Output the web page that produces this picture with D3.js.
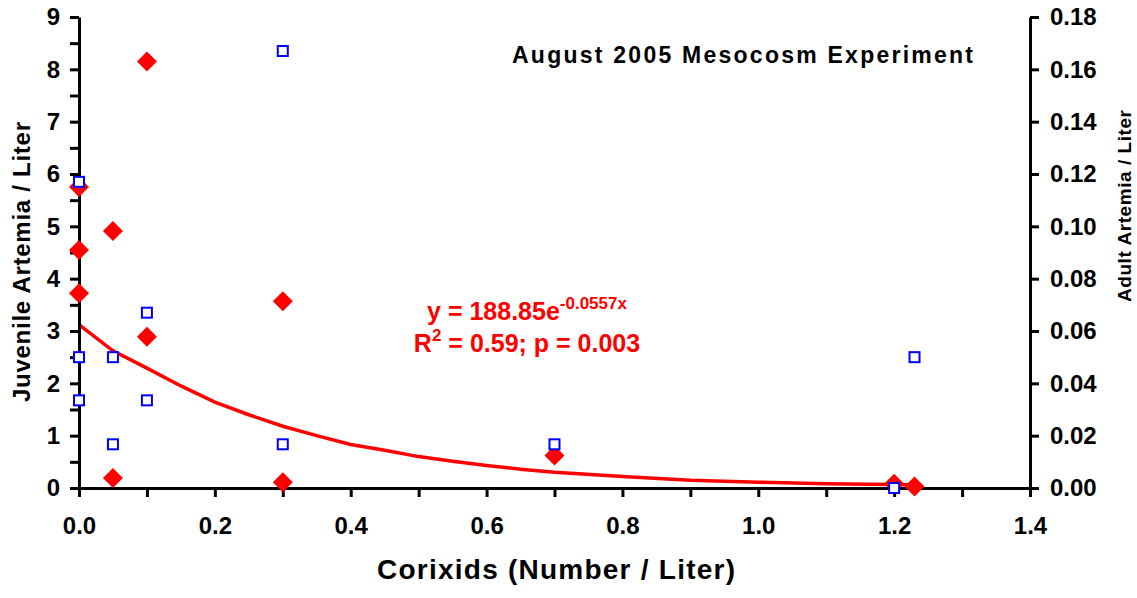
<!DOCTYPE html>
<html>
<head>
<meta charset="utf-8">
<script src="https://cdn.jsdelivr.net/npm/d3@7"></script>
<style>
  body { margin: 0; background: #fff; }
  svg { font-family: "Liberation Sans", Arial, sans-serif; font-weight: bold; }
  .axis path, .axis line { stroke: #000; stroke-width: 3; }
  .axis text { font-size: 24px; font-weight: bold; fill: #000; }
</style>
</head>
<body>
<svg id="chart" width="1137" height="598"></svg>
<script>
// corixid density (x) for each mesocosm
const juvX = [0, 0, 0, 0.05, 0.05, 0.1, 0.1, 0.3, 0.3, 0.7, 1.2, 1.23];
// juvenile artemia / liter (left axis)
const juvY = [5.75, 4.55, 3.72, 4.91, 0.19, 8.15, 2.89, 3.57, 0.11, 0.62, 0.08, 0.03];
const adultX = [0, 0, 0, 0.05, 0.05, 0.1, 0.1, 0.3, 0.3, 0.7, 1.2, 1.23];
// adult artemia / liter (right axis)
const adultY = [0.117, 0.05, 0.0335, 0.05, 0.0167, 0.067, 0.0335, 0.167, 0.0167, 0.0167, 0, 0.05];

// exponential trend line
const trendX = [0, 0.05, 0.1, 0.15, 0.2, 0.25, 0.3, 0.35, 0.4, 0.45, 0.5, 0.55, 0.6, 0.65, 0.7, 0.8, 0.9, 1.0, 1.1, 1.23];
const trendY = [3.12, 2.62, 2.29, 1.95, 1.64, 1.40, 1.18, 1.00, 0.83, 0.72, 0.60, 0.51, 0.43, 0.36, 0.30, 0.22, 0.15, 0.11, 0.08, 0.06];

const xTicks = d3.range(0, 15).map(i => i / 10);
const yLeftTicks = d3.range(0, 19).map(i => i / 2);
const yRightTicks = d3.range(0, 10).map(i => i / 50);

const svg = d3.select("svg#chart");
const plotLeft = 79, plotRight = 1030, plotTop = 17, plotBottom = 488;

const x = d3.scaleLinear().domain([0, 1.4]).range([plotLeft, plotRight]);
const yL = d3.scaleLinear().domain([0, 9]).range([plotBottom, plotTop]);
const yR = d3.scaleLinear().domain([0, 0.18]).range([plotBottom, plotTop]);

// trend line
const line = d3.line()
    .x((d, i) => x(trendX[i]))
    .y(d => yL(d));
svg.append("path")
    .datum(trendY)
    .attr("d", line)
    .attr("fill", "none")
    .attr("stroke", "#ff0000")
    .attr("stroke-width", 3.5);

// axes
svg.append("g")
    .attr("class", "axis")
    .attr("transform", `translate(0,${plotBottom})`)
    .call(d3.axisBottom(x).tickValues(xTicks).tickSize(9).tickSizeOuter(0).tickPadding(20)
        .tickFormat(d => Math.round(d * 10) % 2 === 0 ? d3.format(".1f")(d) : ""));

svg.append("g")
    .attr("class", "axis")
    .attr("transform", `translate(${plotLeft},0)`)
    .call(d3.axisLeft(yL).tickValues(yLeftTicks).tickSize(9).tickSizeOuter(0).tickPadding(10)
        .tickFormat(d => Number.isInteger(d) ? d : ""));

svg.append("g")
    .attr("class", "axis")
    .attr("transform", `translate(${plotRight},0)`)
    .call(d3.axisRight(yR).tickValues(yRightTicks).tickSize(9).tickSizeOuter(0).tickPadding(11)
        .tickFormat(d3.format(".2f")));

// juvenile: red diamonds
svg.selectAll("path.juv")
    .data(juvY)
    .join("path")
    .attr("class", "juv")
    .attr("d", d3.symbol(d3.symbolSquare, 200))
    .attr("transform", (d, i) => `translate(${x(juvX[i])},${yL(d)}) rotate(45)`)
    .attr("fill", "#ff0000");

// adult: blue open squares
svg.selectAll("rect.adult")
    .data(adultY)
    .join("rect")
    .attr("class", "adult")
    .attr("x", (d, i) => x(adultX[i]) - 5)
    .attr("y", d => yR(d) - 5)
    .attr("width", 10)
    .attr("height", 10)
    .attr("fill", "#fff")
    .attr("stroke", "#0000ff")
    .attr("stroke-width", 2);

// titles
svg.append("text")
    .attr("x", 512).attr("y", 63)
    .attr("textLength", 461).attr("lengthAdjust", "spacing")
    .style("font-size", "23px")
    .text("August 2005 Mesocosm Experiment");

svg.append("text")
    .attr("x", 377).attr("y", 579)
    .attr("textLength", 358).attr("lengthAdjust", "spacing")
    .style("font-size", "28px")
    .text("Corixids (Number / Liter)");

svg.append("text")
    .attr("transform", "translate(30,402) rotate(-90)")
    .attr("textLength", 280).attr("lengthAdjust", "spacing")
    .style("font-size", "24px")
    .text("Juvenile Artemia / Liter");

svg.append("text")
    .attr("transform", "translate(1131,302) rotate(-90)")
    .attr("textLength", 192).attr("lengthAdjust", "spacing")
    .style("font-size", "19px")
    .text("Adult Artemia / Liter");

// equation
const eq = svg.append("g").attr("fill", "#ff0000").style("font-size", "25px");
const l1 = eq.append("text").attr("x", 527).attr("y", 320).attr("text-anchor", "middle");
l1.append("tspan").text("y = 188.85e");
l1.append("tspan").attr("dy", -11).style("font-size", "17px").text("-0.0557x");
const l2 = eq.append("text").attr("x", 527).attr("y", 352).attr("text-anchor", "middle");
l2.append("tspan").text("R");
l2.append("tspan").attr("dy", -11).style("font-size", "17px").text("2");
l2.append("tspan").attr("dy", 11).text(" = 0.59; p = 0.003");
</script>
</body>
</html>
